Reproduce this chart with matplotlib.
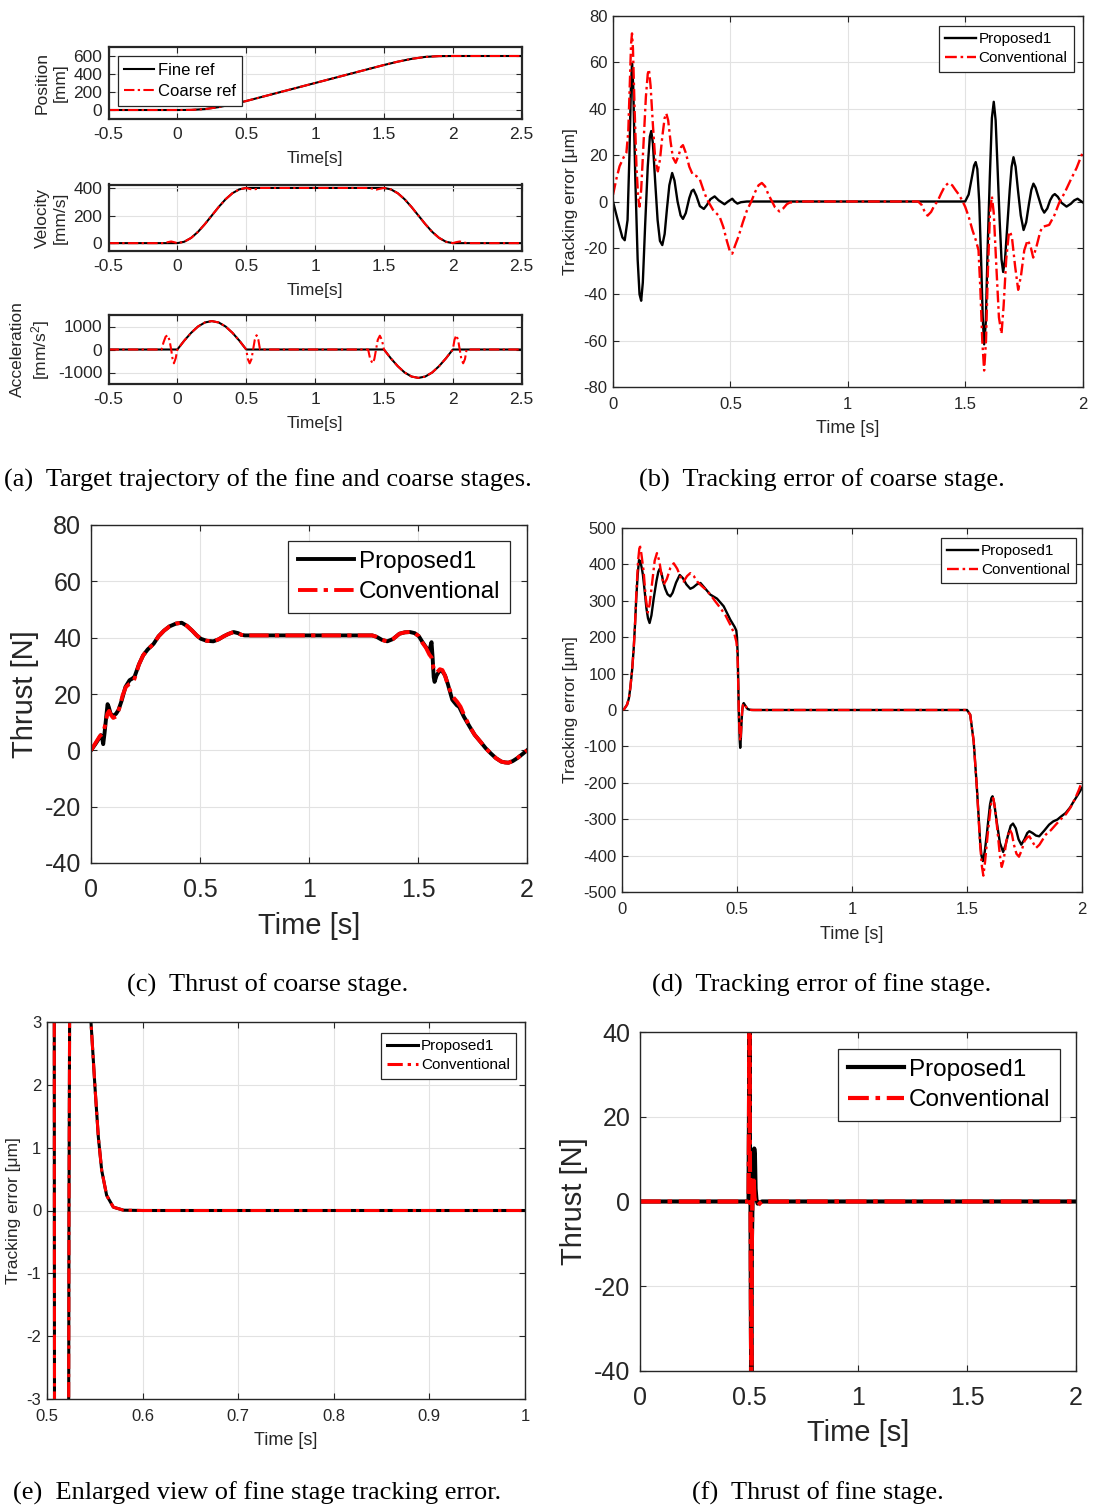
import matplotlib
matplotlib.use('Agg')
import matplotlib.pyplot as plt
from matplotlib.ticker import FuncFormatter

plt.rcParams['font.family'] = ['Liberation Sans', 'DejaVu Sans']
plt.rcParams['mathtext.fontset'] = 'custom'
plt.rcParams['mathtext.rm'] = 'Liberation Sans'
plt.rcParams['mathtext.it'] = 'Liberation Sans:italic'
plt.rcParams['axes.unicode_minus'] = False

W, H = 1094, 1510
EDGE = '#262626'
GRID = '#e2e2e2'
DASHDOT = (0, (5, 1.6, 1.1, 1.6))

# ---- (a) reference trajectories ----
t_pos = [-0.5, 0.0, 0.1, 0.2, 0.3, 0.4, 0.5, 1.0, 1.5, 1.6, 1.7, 1.8, 1.9, 2.0, 2.5]
pos_ref = [0, 0, 1.3, 10, 32, 63, 100, 300, 500, 537, 568, 590, 598.7, 600, 600]

t_vel_fine = [-0.5, 0.0, 0.05, 0.1, 0.15, 0.2, 0.25, 0.3, 0.35, 0.4, 0.45, 0.5,
              1.5, 1.55, 1.6, 1.65, 1.7, 1.75, 1.8, 1.85, 1.9, 1.95, 2.0, 2.5]
vel_fine = [0, 0, 10, 38, 82, 138, 200, 262, 318, 362, 390, 400,
            400, 390, 362, 318, 262, 200, 138, 82, 38, 10, 0, 0]
t_vel_coarse = [-0.5, -0.11, -0.09, -0.07, -0.045, -0.02, 0.0, 0.05, 0.1, 0.15, 0.2, 0.25, 0.3, 0.35,
                0.4, 0.45, 0.5, 0.52, 0.55, 0.58, 0.6, 1.39, 1.42, 1.445, 1.47, 1.5, 1.55, 1.6, 1.65,
                1.7, 1.75, 1.8, 1.85, 1.9, 1.95, 2.0, 2.02, 2.05, 2.08, 2.1, 2.5]
vel_coarse = [0, 0, 2, 7, 12, 6, 0, 10, 38, 82, 138, 200, 262, 318,
              362, 390, 400, 394, 388, 394, 400, 400, 394, 388, 394, 400, 390, 362, 318,
              262, 200, 138, 82, 38, 10, 0, 6, 12, 6, 0, 0]

t_acc_fine = [-0.5, 0.0, 0.05, 0.1, 0.15, 0.2, 0.25, 0.3, 0.35, 0.4, 0.45, 0.5,
              1.5, 1.55, 1.6, 1.65, 1.7, 1.75, 1.8, 1.85, 1.9, 1.95, 2.0, 2.5]
acc_fine = [0, 0, 385, 725, 1000, 1175, 1235, 1175, 1000, 725, 385, 0,
            0, -385, -725, -1000, -1175, -1235, -1175, -1000, -725, -385, 0, 0]
t_acc_coarse = [-0.5, -0.115, -0.1, -0.085, -0.07, -0.057, -0.045, -0.035, -0.025, -0.012, 0.0,
                0.05, 0.1, 0.15, 0.2, 0.25, 0.3, 0.35, 0.4, 0.45, 0.5,
                0.512, 0.525, 0.538, 0.55, 0.562, 0.575, 0.588, 0.6,
                1.385, 1.4, 1.4175, 1.43, 1.4425, 1.455, 1.47, 1.485, 1.5,
                1.55, 1.6, 1.65, 1.7, 1.75, 1.8, 1.85, 1.9, 1.95, 2.0,
                2.012, 2.025, 2.038, 2.05, 2.062, 2.075, 2.088, 2.1, 2.5]
acc_coarse = [0, 0, 320, 560, 620, 400, 0, -400, -600, -380, 0,
              385, 725, 1000, 1175, 1235, 1175, 1000, 725, 385, 0,
              -420, -600, -420, 0, 420, 620, 420, 0,
              0, -420, -600, -420, 0, 420, 600, 420, 0,
              -385, -725, -1000, -1175, -1235, -1175, -1000, -725, -385, 0,
              420, 620, 420, 0, -420, -600, -420, 0, 0]

# ---- (b) coarse stage tracking error [um] ----
t_ce_prop = [0, 0.02, 0.04, 0.05, 0.062, 0.07, 0.076, 0.081, 0.086, 0.095, 0.105, 0.113, 0.12, 0.127,
             0.137, 0.148, 0.157, 0.163, 0.17, 0.18, 0.19, 0.2, 0.21, 0.22, 0.23, 0.24, 0.252, 0.262,
             0.275, 0.288, 0.298, 0.31, 0.325, 0.335, 0.343, 0.355, 0.37, 0.387, 0.4, 0.415, 0.433,
             0.45, 0.475, 0.49, 0.508, 0.518, 0.53, 0.545, 0.57, 1.5, 1.515, 1.528, 1.538, 1.545,
             1.552, 1.56, 1.568, 1.575, 1.581, 1.588, 1.596, 1.605, 1.614, 1.622, 1.63, 1.638, 1.647,
             1.655, 1.662, 1.67, 1.68, 1.69, 1.698, 1.706, 1.715, 1.725, 1.737, 1.749, 1.76, 1.772,
             1.782, 1.791, 1.8, 1.815, 1.827, 1.837, 1.85, 1.862, 1.873, 1.882, 1.895, 1.91, 1.932,
             1.95, 1.965, 1.979, 2.0]
ce_prop = [0, -8, -15.5, -16.7, -8, 20, 48, 59.5, 50, 10, -25, -40, -42.8, -35,
           -10, 15, 28, 30.4, 25, 8, -8, -17, -18.8, -14, -3, 7, 12.3, 9,
           0, -6, -7.5, -5, 1.5, 4.5, 5.1, 2.5, -2, -3.2, -1.5, 1, 2.2,
           0.5, -1.2, 0, 1.2, 0, -0.9, -0.3, 0, 0, 3, 10, 15.5, 17,
           14, 0, -25, -50, -61.6, -52, -20, 10, 36, 43, 35, 15, -8,
           -25, -30.4, -25, -10, 5, 15, 19.1, 15, 5, -6, -12.3, -9, -1,
           5, 7.7, 6, 1, -3, -4.8, -3, 0.5, 2.5, 3.2, 2, -0.5, -2.2,
           -1, 0.5, 1.2, -0.3]
t_ce_conv = [0, 0.015, 0.028, 0.045, 0.057, 0.065, 0.072, 0.077, 0.081, 0.085, 0.092, 0.1, 0.107,
             0.113, 0.12, 0.13, 0.14, 0.148, 0.153, 0.16, 0.17, 0.18, 0.191, 0.2, 0.21, 0.22, 0.227,
             0.235, 0.245, 0.255, 0.267, 0.28, 0.29, 0.298, 0.31, 0.325, 0.34, 0.355, 0.37, 0.385,
             0.4, 0.426, 0.454, 0.47, 0.485, 0.498, 0.508, 0.52, 0.535, 0.553, 0.57, 0.589, 0.605,
             0.62, 0.634, 0.648, 0.662, 0.674, 0.69, 0.709, 0.725, 0.74, 0.752, 0.794, 1.3, 1.315,
             1.328, 1.34, 1.355, 1.37, 1.382, 1.398, 1.413, 1.429, 1.445, 1.46, 1.474, 1.487, 1.5,
             1.515, 1.531, 1.545, 1.557, 1.565, 1.573, 1.581, 1.589, 1.597, 1.606, 1.614, 1.622,
             1.633, 1.644, 1.655, 1.664, 1.675, 1.686, 1.692, 1.7, 1.713, 1.726, 1.738, 1.752, 1.766,
             1.778, 1.79, 1.805, 1.82, 1.83, 1.845, 1.858, 1.88, 1.9, 1.925, 1.95, 1.975, 2.0]
ce_conv = [2.9, 10, 15.2, 19, 21, 30, 52, 68, 72.5, 66, 40, 15, 2,
           -2.2, 5, 25, 45, 55, 57, 50, 33, 18, 13, 18, 28, 36, 38,
           35, 26, 19, 16.7, 20, 23.5, 24.3, 21, 15, 11.5, 11, 9.5, 5,
           1, -3.6, -6.5, -11, -17, -21.5, -22.5, -19, -15, -9, -4, 0, 4,
           7, 8, 6.5, 3, 0.7, -2.5, -4.3, -3, -1.2, -0.5, 0, 0, -1.5,
           -4.5, -6.1, -4.5, -1.5, 0, 3.5, 6.5, 8, 7, 4.8, 2.9, 0.5, -2.2,
           -6.5, -12.3, -16.5, -21, -38, -60, -72.9, -60, -30, -5, 2.2, -5,
           -28, -50, -57, -45, -25, -14, -13, -16, -28, -38.1, -32, -21, -16.7,
           -19, -24.2, -19, -13, -10.9, -10.5, -10.1, -6, -0.7, 4, 9.4, 14.5, 21]

# ---- (c) coarse stage thrust [N] ----
t_ct_prop = [0, 0.02, 0.035, 0.045, 0.052, 0.056, 0.062, 0.07, 0.076, 0.081, 0.09, 0.102, 0.115,
             0.126, 0.14, 0.158, 0.177, 0.19, 0.2, 0.22, 0.239, 0.26, 0.287, 0.31, 0.335, 0.36,
             0.39, 0.416, 0.44, 0.464, 0.485, 0.504, 0.53, 0.561, 0.585, 0.609, 0.63, 0.654, 0.675,
             0.69, 0.706, 1.29, 1.31, 1.335, 1.359, 1.385, 1.415, 1.44, 1.463, 1.485, 1.504, 1.52,
             1.536, 1.552, 1.557, 1.562, 1.567, 1.572, 1.576, 1.585, 1.6, 1.612, 1.624, 1.637, 1.649,
             1.657, 1.665, 1.678, 1.689, 1.71, 1.737, 1.76, 1.786, 1.81, 1.834, 1.858, 1.882, 1.9,
             1.915, 1.935, 1.955, 1.978, 2.0]
ct_prop = [0, 2.2, 4, 5.4, 4, 2.2, 6, 12, 16.4, 15.5, 13, 12.2, 13,
           14.3, 17.5, 22.5, 24.9, 25.5, 26.2, 30.5, 33.7, 35.8, 37.8, 40.5, 42.5, 44,
           45, 45.3, 44.2, 42.5, 40.8, 39.6, 38.9, 38.7, 39.4, 40.5, 41.3, 42, 41.6,
           41, 40.8, 40.8, 40.3, 39.2, 38.7, 39.5, 41.4, 41.9, 42, 41.6, 40.5, 38.5,
           36.7, 34.9, 37, 38.4, 33, 26, 24.3, 26.5, 28.4, 28, 26.6, 23.5, 20.2,
           18, 17.2, 16, 15.4, 12, 8.4, 5.5, 3.1, 0.8, -1.1, -2.8, -4, -4.3,
           -4.4, -3.8, -2.8, -1.4, 0]
t_ct_conv = [0, 0.02, 0.04, 0.055, 0.065, 0.075, 0.083, 0.092, 0.102, 0.115, 0.13, 0.145, 0.16,
             0.175, 0.19, 0.2, 0.22, 0.239, 0.26, 0.287, 0.31, 0.335, 0.36, 0.39, 0.416, 0.44,
             0.464, 0.485, 0.504, 0.53, 0.561, 0.585, 0.609, 0.63, 0.654, 0.675, 0.69, 0.706, 1.29,
             1.31, 1.335, 1.359, 1.385, 1.415, 1.44, 1.463, 1.485, 1.504, 1.52, 1.536, 1.552, 1.562,
             1.572, 1.585, 1.6, 1.612, 1.624, 1.64, 1.66, 1.68, 1.695, 1.71, 1.737, 1.76, 1.786,
             1.81, 1.834, 1.858, 1.882, 1.9, 1.915, 1.935, 1.955, 1.978, 2.0]
ct_conv = [0, 2.5, 5, 6, 9, 13, 14, 12.5, 11.5, 12, 15, 19.5, 22.5,
           23.5, 24, 25.5, 30.5, 33.7, 35.8, 37.8, 40.5, 42.5, 44, 45, 45.3, 44.2,
           42.5, 40.8, 39.6, 38.9, 38.7, 39.4, 40.5, 41.3, 42, 41.6, 41, 40.8, 40.8,
           40.3, 39.2, 38.7, 39.5, 41.4, 41.9, 42, 41.6, 40.5, 38.2, 36.5, 34, 33,
           29, 27.5, 28.8, 28.5, 26.5, 22.5, 19, 17.2, 15.5, 12.8, 8.4, 5.5, 3.1,
           0.8, -1.1, -2.8, -4, -4.3, -4.4, -3.8, -2.8, -1.4, 0]

# ---- (d), (e) fine stage tracking error [um] ----
t_fe_prop = [0, 0.01, 0.022, 0.03, 0.036, 0.044, 0.051, 0.057, 0.062, 0.068, 0.074, 0.08, 0.086,
             0.091, 0.098, 0.106, 0.113, 0.12, 0.128, 0.138, 0.15, 0.158, 0.164, 0.172, 0.18, 0.188,
             0.198, 0.21, 0.22, 0.235, 0.251, 0.265, 0.28, 0.297, 0.31, 0.325, 0.341, 0.36, 0.384,
             0.413, 0.442, 0.471, 0.49, 0.497, 0.5, 0.503, 0.506, 0.5077, 0.509, 0.512, 0.514, 0.517,
             0.52, 0.523, 0.526, 0.529, 0.534, 0.54, 0.546, 0.5502, 0.5537, 0.5572, 0.5624, 0.5694,
             0.58, 0.6, 1.5, 1.514, 1.529, 1.543, 1.557, 1.563, 1.569, 1.577, 1.586, 1.6, 1.606,
             1.611, 1.618, 1.629, 1.643, 1.657, 1.668, 1.679, 1.69, 1.7, 1.712, 1.724, 1.736, 1.75,
             1.762, 1.771, 1.785, 1.8, 1.814, 1.835, 1.857, 1.875, 1.893, 1.91, 1.929, 1.948, 1.964,
             1.982, 2.0]
fe_prop = [0, 3, 14.6, 32, 60, 110, 170, 240, 307, 370, 412, 408, 390,
           371, 330, 280, 252, 239, 260, 307, 355, 380, 388, 375, 350, 333,
           318, 312, 322, 350, 371, 362, 345, 333, 337, 345, 349, 335, 317,
           306, 285, 248, 228, 218, 200, 152, 60, 0, -31, -85, -104, -75,
           -30, 0, 14, 19, 14, 8, 3, 1.96, 1.17, 0.64, 0.24, 0.053,
           0.005, 0, 0, -13, -86, -214, -360, -400, -415, -390, -342, -260, -242,
           -237, -255, -306, -365, -390, -370, -342, -318, -312, -325, -355, -370, -355,
           -338, -333, -338, -345, -347, -332, -315, -306, -301, -292, -283, -268, -251,
           -233, -214]
t_fe_conv = [0, 0.01, 0.022, 0.03, 0.036, 0.044, 0.051, 0.057, 0.062, 0.07, 0.077, 0.084, 0.094,
             0.103, 0.112, 0.12, 0.13, 0.142, 0.152, 0.162, 0.172, 0.181, 0.195, 0.21, 0.225, 0.24,
             0.255, 0.268, 0.283, 0.297, 0.312, 0.327, 0.341, 0.362, 0.384, 0.406, 0.428, 0.45,
             0.471, 0.488, 0.497, 0.5, 0.503, 0.506, 0.5077, 0.509, 0.512, 0.514, 0.517, 0.52, 0.523,
             0.526, 0.529, 0.534, 0.54, 0.546, 0.5502, 0.5537, 0.5572, 0.5624, 0.5694, 0.58, 0.6,
             1.5, 1.514, 1.529, 1.543, 1.557, 1.565, 1.571, 1.578, 1.59, 1.604, 1.614, 1.622, 1.633,
             1.643, 1.651, 1.66, 1.671, 1.686, 1.695, 1.704, 1.715, 1.726, 1.738, 1.75, 1.762, 1.771,
             1.785, 1.8, 1.815, 1.843, 1.865, 1.886, 1.908, 1.929, 1.95, 1.971, 1.986, 2.0]
fe_conv = [0, 3, 14.6, 32, 60, 110, 170, 240, 317, 410, 454, 430, 381,
           310, 268, 290, 344, 410, 431, 410, 370, 344, 360, 390, 403, 388,
           365, 353, 368, 376, 368, 353, 344, 332, 317, 298, 280, 260,
           234, 210, 188, 170, 134, 50, 0, -25, -70, -85, -65, -28, 0,
           14, 18, 14, 8, 3, 1.96, 1.17, 0.64, 0.24, 0.053, 0.005, 0,
           0, -13, -86, -214, -370, -430, -455, -420, -342, -260, -242, -270, -335,
           -400, -431, -410, -360, -328, -340, -370, -395, -403, -385, -360, -350, -347,
           -362, -379, -370, -342, -330, -315, -300, -287, -268, -242, -220, -196]

# ---- (f) fine stage thrust [N] ----
t_ft_prop = [0, 0.498, 0.5, 0.502, 0.504, 0.505, 0.507, 0.509, 0.511, 0.513, 0.516, 0.52,
             0.524, 0.527, 0.53, 0.534, 0.54, 0.55, 0.56, 2.0]
ft_prop = [0, 0, 20, 45, 15, 4, 2, -30, -48, -10, 0, 6,
           12.5, 11, 3, 0.5, -0.5, -0.2, 0, 0]
t_ft_conv = [0, 0.498, 0.5, 0.502, 0.504, 0.505, 0.507, 0.509, 0.511, 0.513, 0.515, 0.518,
             0.521, 0.525, 0.53, 0.54, 0.55, 0.56, 2.0]
ft_conv = [0, 0, 20, 48, 12, 3, 5, -30, -48, -10, 0, 4,
           6, 1, -0.5, -1, -0.4, 0, 0]


def px_rect(x0, y0, x1, y1):
    return [x0 / W, 1 - y1 / H, (x1 - x0) / W, (y1 - y0) / H]


def style(ax, fs, xpad, ypad, edge_lw=1.0):
    ax.tick_params(direction='in', top=True, right=True, labelsize=fs, colors=EDGE,
                   width=0.8, length=4)
    ax.tick_params(axis='x', pad=xpad)
    ax.tick_params(axis='y', pad=ypad)
    for s in ax.spines.values():
        s.set_color(EDGE)
        s.set_linewidth(edge_lw)
    ax.grid(True, color=GRID, linewidth=0.8)
    ax.set_axisbelow(True)
    fmt = FuncFormatter(lambda v, p: '%g' % (0 if abs(v) < 1e-12 else v))
    ax.xaxis.set_major_formatter(fmt)
    ax.yaxis.set_major_formatter(fmt)


def add_legend(ax, fs, anchor, loc='upper right', hl=2.0):
    lg = ax.legend(loc=loc, bbox_to_anchor=anchor, borderaxespad=0, fontsize=fs,
                   fancybox=False, framealpha=1, edgecolor=EDGE, handlelength=hl,
                   handletextpad=0.2, borderpad=0.4, labelspacing=0.35)
    lg.get_frame().set_linewidth(0.9)
    return lg


def two_lines(ax, t1, y1, t2, y2, lw, labels=('Proposed1', 'Conventional')):
    ax.plot(t1, y1, color='k', lw=lw, label=labels[0])
    ax.plot(t2, y2, color='r', lw=lw, ls=DASHDOT, label=labels[1])


fig = plt.figure(figsize=(W / 100, H / 100), dpi=100)
fig.patch.set_facecolor('white')

# (a) target trajectory: position, velocity, acceleration
a_ticks = [-0.5, 0, 0.5, 1, 1.5, 2, 2.5]

ax = fig.add_axes(px_rect(108.5, 47, 521.7, 119))
two_lines(ax, t_pos, pos_ref, t_pos, pos_ref, 1.5, labels=('Fine ref', 'Coarse ref'))
ax.set_xlim(-0.5, 2.5)
ax.set_ylim(-100, 700)
ax.set_yticks([0, 200, 400, 600])
ax.set_xticks(a_ticks)
style(ax, 12.5, 5.8, 4.5, 1.6)
ax.set_xlabel('Time[s]', fontsize=12.5, color=EDGE, labelpad=6.5)
ax.set_ylabel('Position\n[mm]', fontsize=12.5, color=EDGE, linespacing=1.25)
add_legend(ax, 12, (0.022, 0.87), loc='upper left', hl=1.8)

ax = fig.add_axes(px_rect(108.5, 184.5, 521.7, 251))
two_lines(ax, t_vel_fine, vel_fine, t_vel_coarse, vel_coarse, 1.5)
ax.set_xlim(-0.5, 2.5)
ax.set_ylim(-57, 425)
ax.set_yticks([0, 200, 400])
ax.set_xticks(a_ticks)
style(ax, 12.5, 5.8, 4.5, 1.6)
ax.set_xlabel('Time[s]', fontsize=12.5, color=EDGE, labelpad=6.5)
ax.set_ylabel('Velocity\n[mm/s]', fontsize=12.5, color=EDGE, linespacing=1.25)

ax = fig.add_axes(px_rect(108.5, 315, 521.7, 384))
two_lines(ax, t_acc_fine, acc_fine, t_acc_coarse, acc_coarse, 1.5)
ax.set_xlim(-0.5, 2.5)
ax.set_ylim(-1500, 1500)
ax.set_yticks([-1000, 0, 1000])
ax.set_xticks(a_ticks)
style(ax, 12.5, 5.8, 4.5, 1.6)
ax.set_xlabel('Time[s]', fontsize=12.5, color=EDGE, labelpad=6.5)
ax.set_ylabel('Acceleration\n[mm/s$^2$]', fontsize=12.5, color=EDGE, linespacing=1.25)

# (b) coarse stage tracking error
ax = fig.add_axes(px_rect(613, 16, 1082.5, 387))
two_lines(ax, t_ce_prop, ce_prop, t_ce_conv, ce_conv, 1.7)
ax.set_xlim(0, 2)
ax.set_ylim(-80, 80)
ax.set_yticks(range(-80, 81, 20))
ax.set_xticks([0, 0.5, 1, 1.5, 2])
style(ax, 12, 7.5, 4)
ax.set_xlabel('Time [s]', fontsize=13, color=EDGE, labelpad=5.5)
ax.set_ylabel('Tracking error [μm]', fontsize=12.5, color=EDGE)
add_legend(ax, 11, (0.981, 0.973))

# (c) coarse stage thrust
ax = fig.add_axes(px_rect(91, 525, 527, 863))
two_lines(ax, t_ct_prop, ct_prop, t_ct_conv, ct_conv, 2.8)
ax.set_xlim(0, 2)
ax.set_ylim(-40, 80)
ax.set_yticks(range(-40, 81, 20))
ax.set_xticks([0, 0.5, 1, 1.5, 2])
style(ax, 18, 10.5, 7)
ax.set_xlabel('Time [s]', fontsize=21, color=EDGE, labelpad=7.5)
ax.set_ylabel('Thrust [N]', fontsize=21, color=EDGE, labelpad=4)
add_legend(ax, 17.5, (0.961, 0.953), hl=2.3)

# (d) fine stage tracking error
ax = fig.add_axes(px_rect(622, 528, 1082, 892))
two_lines(ax, t_fe_prop, fe_prop, t_fe_conv, fe_conv, 1.7)
ax.set_xlim(0, 2)
ax.set_ylim(-500, 500)
ax.set_yticks(range(-500, 501, 100))
ax.set_xticks([0, 0.5, 1, 1.5, 2])
style(ax, 12, 7.5, 4)
ax.set_xlabel('Time [s]', fontsize=13, color=EDGE, labelpad=6)
ax.set_ylabel('Tracking error [μm]', fontsize=12.5, color=EDGE)
add_legend(ax, 11, (0.987, 0.973))

# (e) enlarged view of fine stage tracking error
ax = fig.add_axes(px_rect(47, 1022, 525, 1399))
two_lines(ax, t_fe_prop, fe_prop, t_fe_conv, fe_conv, 2.2)
ax.set_xlim(0.5, 1)
ax.set_ylim(-3, 3)
ax.set_yticks([-3, -2, -1, 0, 1, 2, 3])
ax.set_xticks([0.5, 0.6, 0.7, 0.8, 0.9, 1.0])
style(ax, 12, 7.5, 4)
ax.set_xlabel('Time [s]', fontsize=13, color=EDGE, labelpad=5.5)
ax.set_ylabel('Tracking error [μm]', fontsize=12.5, color=EDGE)
add_legend(ax, 11, (0.981, 0.971))

# (f) fine stage thrust
ax = fig.add_axes(px_rect(640, 1032, 1076, 1371))
two_lines(ax, t_ft_prop, ft_prop, t_ft_conv, ft_conv, 3.0)
ax.set_xlim(0, 2)
ax.set_ylim(-40, 40)
ax.set_yticks([-40, -20, 0, 20, 40])
ax.set_xticks([0, 0.5, 1, 1.5, 2])
style(ax, 18, 10.5, 7)
ax.set_xlabel('Time [s]', fontsize=21, color=EDGE, labelpad=7)
ax.set_ylabel('Thrust [N]', fontsize=21, color=EDGE, labelpad=4)
add_legend(ax, 17.5, (0.963, 0.95), hl=2.3)

# sub-figure captions
captions = [
    (268, 480, '(a)  Target trajectory of the fine and coarse stages.'),
    (822, 480, '(b)  Tracking error of coarse stage.'),
    (268, 985, '(c)  Thrust of coarse stage.'),
    (822, 985, '(d)  Tracking error of fine stage.'),
    (257, 1493, '(e)  Enlarged view of fine stage tracking error.'),
    (818, 1493, '(f)  Thrust of fine stage.'),
]
for cx, cy, txt in captions:
    fig.text(cx / W, 1 - cy / H, txt, ha='center', va='center', fontsize=19,
             family=['Liberation Serif', 'DejaVu Serif'], color='black')

fig.savefig('out.png', dpi=100, facecolor='white')
